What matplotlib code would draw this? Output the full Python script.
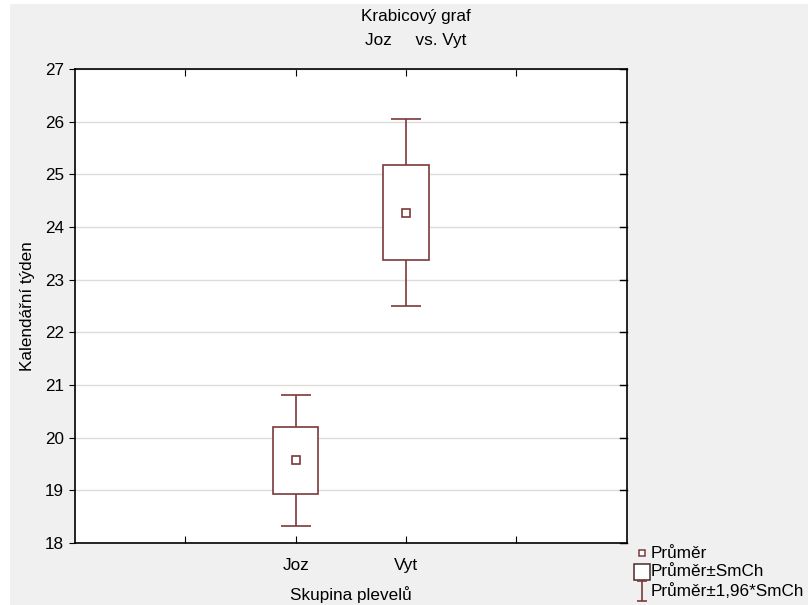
import numpy as np
import matplotlib
matplotlib.use("Agg")
import matplotlib.pyplot as plt
from matplotlib.lines import Line2D
from matplotlib.path import Path
from matplotlib.patches import Rectangle

# data
groups = ["Joz", "Vyt"]
group_pos = [1, 2]
means = [19.57, 24.27]
se = [0.635, 0.905]
ci_factor = 1.96

tick_pos = [0, 1, 2, 3]
tick_labels = ["", "Joz", "Vyt", ""]

title_lines = ["Krabicový graf", "Joz     vs. Vyt"]
legend_labels = ["Průměr", "Průměr±SmCh", "Průměr±1,96*SmCh"]

col = "#7a3a3a"
bg = "#f0f0f0"

plt.rcParams['font.family'] = ['Liberation Sans', 'DejaVu Sans']
plt.rcParams['font.size'] = 12.3

fig = plt.figure(figsize=(8.08, 6.05), dpi=100, facecolor=bg)
# thin white border at the left and top like the screenshot
fig.add_artist(Rectangle((0, 0), 10 / 808, 1, transform=fig.transFigure,
                         color="white", lw=0, zorder=-1))
fig.add_artist(Rectangle((0, 1 - 4 / 605), 1, 4 / 605, transform=fig.transFigure,
                         color="white", lw=0, zorder=-1))

ax = fig.add_axes([0.0928, 0.1025, 0.683, 0.7835])
ax.set_facecolor("white")

means = np.array(means)
se = np.array(se)

# whiskers (mean +- 1.96*SE) under the box
ax.errorbar(group_pos, means, yerr=ci_factor * se, fmt="none", ecolor=col,
            elinewidth=1.2, capsize=11, capthick=1.2, zorder=2)
# box (mean +- SE), white fill hides the whisker line inside
ax.bar(group_pos, 2 * se, bottom=means - se, width=0.41, color="white",
       edgecolor=col, linewidth=1.2, zorder=3)
# mean marker
ax.plot(group_pos, means, ls="", marker="s", ms=6, mfc="white", mec=col,
        mew=1.2, zorder=4)

ax.set_xlim(-1, 4)
ax.set_ylim(18, 27)
ax.set_yticks(np.arange(18, 28, 1))
ax.set_xticks(tick_pos)
ax.set_xticklabels(tick_labels)
ax.yaxis.grid(True, color="#dcdcdc", linewidth=1)
ax.set_axisbelow(True)

ax.tick_params(axis="y", direction="out", length=4, left=True, right=False, pad=4)
ax.tick_params(axis="x", direction="in", length=5, top=True, bottom=True, pad=11)
# small inward ticks on the right edge
for y in np.arange(18, 28, 1):
    ax.plot([1, 0.988], [y, y], transform=ax.get_yaxis_transform(), color="black",
            lw=1, clip_on=False)
for s in ax.spines.values():
    s.set_linewidth(1.2)

ax.set_xlabel("Skupina plevelů", labelpad=9)
ax.set_ylabel("Kalendářní týden", labelpad=7)

fig.text(416 / 808, 1 - 17 / 605, title_lines[0], ha="center", va="center")
fig.text(416 / 808, 1 - 40 / 605, title_lines[1], ha="center", va="center")

# legend in the lower right corner, placed by hand (figure pixels)
ibeam = Path([(-0.5, 1), (0.5, 1), (0, 1), (0, -1), (-0.5, -1), (0.5, -1)],
             [Path.MOVETO, Path.LINETO, Path.MOVETO, Path.LINETO, Path.MOVETO, Path.LINETO])
leg_styles = [
    dict(marker="s", ms=5, mfc="white", mec=col, mew=1.1),
    dict(marker="s", ms=12, mfc="white", mec="#4a2a2a", mew=1.1),
    dict(marker=ibeam, ms=14, mfc="none", mec=col, mew=1.2),
]
row_y = [553, 572, 591]
for lab, st, py in zip(legend_labels, leg_styles, row_y):
    yf = 1 - py / 605
    fig.add_artist(Line2D([642 / 808], [yf], ls="", transform=fig.transFigure, **st))
    fig.text(651 / 808, yf, lab, ha="left", va="center", fontsize=12.3)

fig.savefig("out.png", dpi=100, facecolor=bg)
